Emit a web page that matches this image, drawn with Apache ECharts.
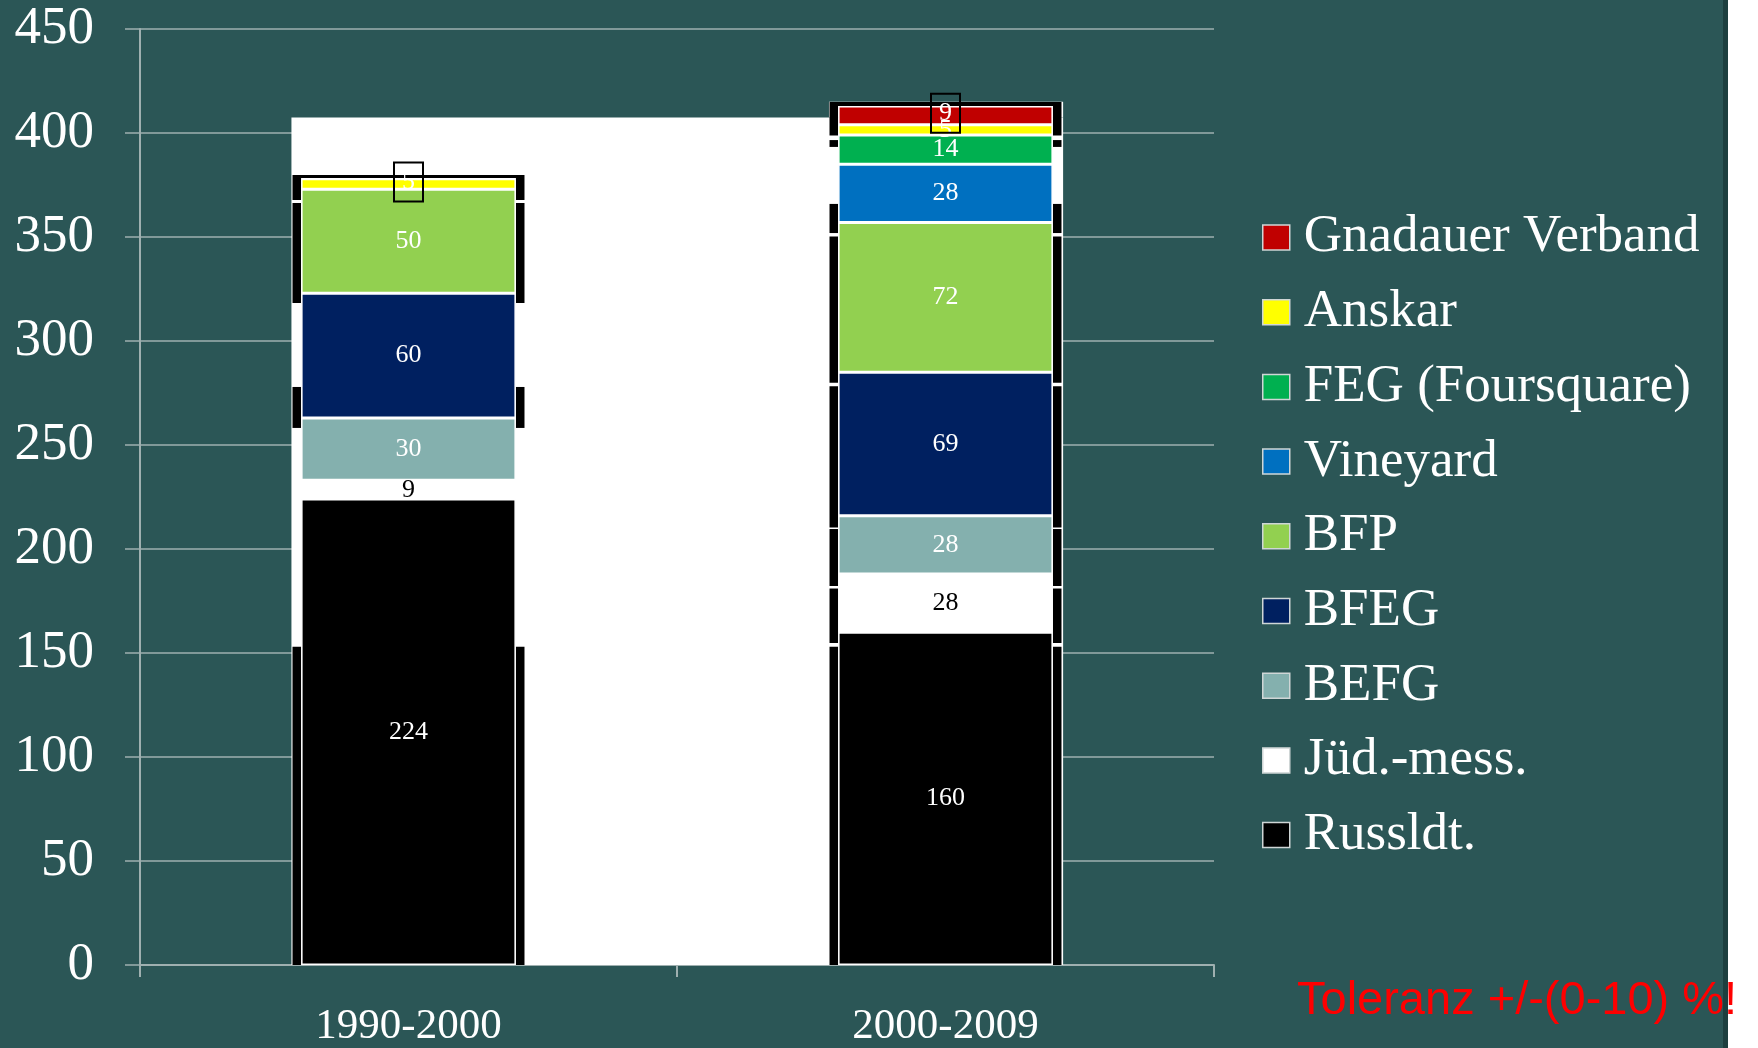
<!DOCTYPE html>
<html>
<head>
<meta charset="utf-8">
<script src="https://cdn.jsdelivr.net/npm/echarts@6/dist/echarts.min.js"></script>
<style>
    html, body {margin: 0; padding: 0; background: #fff;}
    #chart {width: 1758px; height: 1048px;}
</style>
</head>
<body>
<div id="chart"></div>
<script>
// data
const periods = ['1990-2000', '2000-2009'];
const russldt = [224, 160];
const juedMess = [9, 28];
const befg = [30, 28];
const bfeg = [60, 69];
const bfp = [50, 72];
const vineyard = [0, 28];
const feg = [0, 14];
const anskar = [5, 5];
const gnadauer = [0, 9];
const yMin = 0, yMax = 450, yStep = 50;

// labels drawn inside a black box (index of period)
const boxedLabels = {'Anskar': [0], 'Gnadauer Verband': [1]};

// stacked from bottom to top
const seriesDefs = [
    {name: 'Russldt.', values: russldt, color: '#000000', text: '#ffffff'},
    {name: 'Jüd.-mess.', values: juedMess, color: '#ffffff', text: '#000000'},
    {name: 'BEFG', values: befg, color: '#84b0ae', text: '#ffffff'},
    {name: 'BFEG', values: bfeg, color: '#002060', text: '#ffffff'},
    {name: 'BFP', values: bfp, color: '#92d050', text: '#ffffff'},
    {name: 'Vineyard', values: vineyard, color: '#0070c0', text: '#ffffff'},
    {name: 'FEG (Foursquare)', values: feg, color: '#00b050', text: '#ffffff'},
    {name: 'Anskar', values: anskar, color: '#ffff00', text: '#ffffff'},
    {name: 'Gnadauer Verband', values: gnadauer, color: '#c00000', text: '#ffffff'}
];

// the white panel and black bracket strips behind the bars (helper x axis 0..2)
const whitePanel = [[0.282, 1.719, 0, 407.4], [1.283, 1.719, 407.4, 415]];
const bracketRanges = [
    [[367.8, 379.8], [318.3, 366.3], [258.2, 277.9], [0, 153]],
    [[398.8, 414.9], [393.3, 396.6], [351.9, 365.9], [279.9, 350.3], [210.3, 278.2], [182.2, 209.6], [154.8, 181], [0, 153]]
];
const bracketTops = [[0.2855, 0.714, 377.4, 379.8], [1.285, 1.714, 413, 414.9]];

const serif = 'Liberation Serif';

const rects = [];
bracketRanges.forEach((ranges, i) => {
    const c = i + 0.5;
    ranges.forEach(r => {
        rects.push([c - 0.216, c - 0.2, r[0], r[1]]);
        rects.push([c + 0.2, c + 0.216, r[0], r[1]]);
    });
});
bracketTops.forEach(r => rects.push(r));

const toArea = list => list.map(a => [{coord: [a[0], a[2]]}, {coord: [a[1], a[3]]}]);

const chart = echarts.init(document.getElementById('chart'));

const barSeries = seriesDefs.map(s => ({
    type: 'bar',
    name: s.name,
    stack: 'total',
    barWidth: '40%',
    z: 3,
    itemStyle: {color: s.color, borderColor: '#ffffff', borderWidth: 1.5},
    label: {
        show: true,
        position: 'inside',
        color: s.text,
        fontFamily: serif,
        fontSize: 26,
        formatter: p => p.value ? String(p.value) : ''
    },
    emphasis: {disabled: true},
    data: s.values.map((v, i) => {
        const boxed = (boxedLabels[s.name] || []).includes(i);
        return boxed ? {value: v, label: {borderColor: '#000', borderWidth: 2, padding: [8, 8, 5, 8], offset: [0, -2]}} : v;
    })
}));

const option = {
    backgroundColor: '#2b5656',
    animation: false,
    grid: {left: 140, right: 544, top: 29, bottom: 83, containLabel: false, outerBoundsMode: 'none'},
    legend: {
        orient: 'vertical',
        left: 1262,
        top: 210,
        padding: 0,
        itemWidth: 27,
        itemHeight: 25,
        itemGap: 19.7,
        icon: 'rect',
        selectedMode: false,
        itemStyle: {borderColor: '#cfd6d6', borderWidth: 1.5},
        textStyle: {color: '#ffffff', fontFamily: serif, fontSize: 53, lineHeight: 55, padding: [0, 0, 0, 9]},
        data: seriesDefs.map(s => s.name).reverse()
    },
    xAxis: [{
        type: 'category',
        data: periods,
        axisLine: {lineStyle: {color: '#9fb0b0', width: 2}},
        axisTick: {show: true, length: 12, lineStyle: {color: '#9fb0b0', width: 2}},
        axisLabel: {color: '#ffffff', fontFamily: serif, fontSize: 43, lineHeight: 43, margin: 40}
    }, {
        type: 'value',
        min: 0,
        max: 2,
        show: false
    }],
    yAxis: {
        type: 'value',
        min: yMin,
        max: yMax,
        interval: yStep,
        axisLine: {show: true, lineStyle: {color: '#9fb0b0', width: 2}},
        axisTick: {show: true, length: 15, lineStyle: {color: '#9fb0b0', width: 1.5}},
        splitLine: {lineStyle: {color: '#9fb0b0', width: 1.5}},
        axisLabel: {color: '#ffffff', fontFamily: serif, fontSize: 53, margin: 46}
    },
    series: [
        {
            type: 'line', xAxisIndex: 1, data: [], silent: true, z: 1,
            markArea: {silent: true, itemStyle: {color: '#ffffff'}, label: {show: false}, data: toArea(whitePanel)}
        },
        {
            type: 'line', xAxisIndex: 1, data: [], silent: true, z: 2,
            markArea: {silent: true, itemStyle: {color: '#000000'}, label: {show: false}, data: toArea(rects)}
        },
        ...barSeries
    ],
    graphic: [
        {type: 'rect', left: 1723, top: 0, shape: {width: 5, height: 1048}, style: {fill: '#1d3f3f'}, z: 10},
        {type: 'rect', left: 1728, top: 0, shape: {width: 30, height: 1048}, style: {fill: '#ffffff'}, z: 10},
        {
            type: 'text', left: 1297, top: 978, z: 20,
            style: {text: 'Toleranz +/-(0-10) %!', fill: '#ff0000', font: '47px "Liberation Sans"'}
        }
    ]
};

chart.setOption(option);
</script>
</body>
</html>
